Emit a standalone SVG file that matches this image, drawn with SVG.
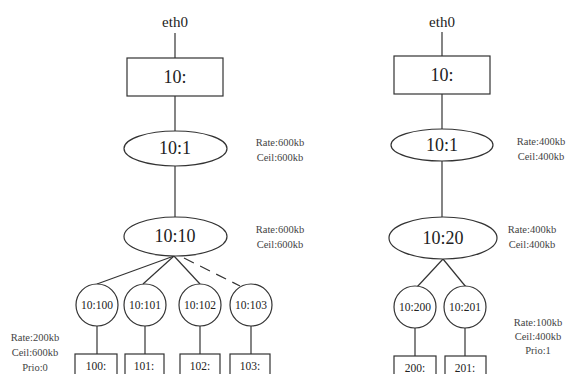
<svg xmlns="http://www.w3.org/2000/svg" width="568" height="374" viewBox="0 0 568 374" font-family="Liberation Serif, DejaVu Serif, serif">
<style>
.s{fill:#fff;stroke:#333;stroke-width:1.2}
.l{stroke:#333;stroke-width:1.2;fill:none}
.d{stroke-dasharray:11,7}
text{fill:#222;text-anchor:middle}
.big{font-size:18px}
.mid{font-size:15px}
.sm{font-size:11.5px}
.lb{font-size:10.5px;fill:#444}
</style>
<rect width="568" height="374" fill="#fff"/>
<g id="connectors">
<line class="l" x1="175" y1="33" x2="175" y2="58"/>
<line class="l" x1="175" y1="96" x2="175" y2="131"/>
<line class="l" x1="175" y1="166" x2="175" y2="217"/>
<line class="l" x1="174" y1="256" x2="97" y2="284"/>
<line class="l" x1="174" y1="256" x2="143" y2="284"/>
<line class="l" x1="174" y1="256" x2="200" y2="284"/>
<line class="l d" x1="184" y1="258" x2="240" y2="286"/>
<line class="l" x1="97" y1="326" x2="97" y2="354"/>
<line class="l" x1="145" y1="326" x2="145" y2="354"/>
<line class="l" x1="200" y1="326" x2="200" y2="354"/>
<line class="l" x1="251" y1="326" x2="251" y2="354"/>
<line class="l" x1="442" y1="32" x2="442" y2="56"/>
<line class="l" x1="442" y1="94" x2="442" y2="129"/>
<line class="l" x1="442" y1="161" x2="442" y2="217"/>
<line class="l" x1="443" y1="259" x2="417" y2="287"/>
<line class="l" x1="443" y1="259" x2="466" y2="287"/>
<line class="l" x1="415" y1="327" x2="415" y2="356"/>
<line class="l" x1="465" y1="327" x2="465" y2="356"/>
</g>
<text class="mid" x="175" y="27">eth0</text>
<text class="mid" x="442" y="27">eth0</text>
<g id="n10a"><rect class="s" x="127" y="58" width="96" height="38"/><text class="big" x="175" y="83">10:</text></g>
<g id="n10_1a"><ellipse class="s" cx="175.5" cy="148.5" rx="51.5" ry="17.5"/><text class="big" x="175" y="154">10:1</text></g>
<g id="n10_10"><ellipse class="s" cx="175.5" cy="236.5" rx="51.5" ry="19.5"/><text class="big" x="175" y="242">10:10</text></g>
<g id="n10_100"><circle class="s" cx="97" cy="305" r="21"/><text class="sm" x="97" y="309">10:100</text></g>
<g id="n10_101"><circle class="s" cx="145" cy="305" r="21"/><text class="sm" x="145" y="309">10:101</text></g>
<g id="n10_102"><circle class="s" cx="200" cy="305" r="21"/><text class="sm" x="200" y="309">10:102</text></g>
<g id="n10_103"><circle class="s" cx="251" cy="305" r="21"/><text class="sm" x="251" y="309">10:103</text></g>
<g id="n100"><rect class="s" x="75" y="354" width="42" height="30"/><text class="sm" x="96" y="370">100:</text></g>
<g id="n101"><rect class="s" x="125" y="354" width="39" height="30"/><text class="sm" x="144" y="370">101:</text></g>
<g id="n102"><rect class="s" x="180" y="354" width="40" height="30"/><text class="sm" x="200" y="370">102:</text></g>
<g id="n103"><rect class="s" x="230" y="354" width="40" height="30"/><text class="sm" x="250" y="370">103:</text></g>
<g id="n10b"><rect class="s" x="394" y="56" width="96" height="38"/><text class="big" x="442" y="81">10:</text></g>
<g id="n10_1b"><ellipse class="s" cx="442" cy="145" rx="51" ry="16"/><text class="big" x="442" y="151">10:1</text></g>
<g id="n10_20"><ellipse class="s" cx="443" cy="238" rx="54" ry="21"/><text class="big" x="443" y="244">10:20</text></g>
<g id="n10_200"><circle class="s" cx="415" cy="307" r="21"/><text class="sm" x="415" y="311">10:200</text></g>
<g id="n10_201"><circle class="s" cx="465" cy="307" r="21"/><text class="sm" x="465" y="311">10:201</text></g>
<g id="n200"><rect class="s" x="394" y="356" width="42" height="30"/><text class="sm" x="415" y="372">200:</text></g>
<g id="n201"><rect class="s" x="445" y="356" width="41" height="30"/><text class="sm" x="465" y="372">201:</text></g>
<text class="lb" x="280" y="146">Rate:600kb</text>
<text class="lb" x="280" y="161">Ceil:600kb</text>
<text class="lb" x="280" y="233">Rate:600kb</text>
<text class="lb" x="280" y="248">Ceil:600kb</text>
<text class="lb" x="35" y="341">Rate:200kb</text>
<text class="lb" x="35" y="356">Ceil:600kb</text>
<text class="lb" x="35" y="371">Prio:0</text>
<text class="lb" x="541" y="145">Rate:400kb</text>
<text class="lb" x="541" y="160">Ceil:400kb</text>
<text class="lb" x="532" y="233">Rate:400kb</text>
<text class="lb" x="532" y="248">Ceil:400kb</text>
<text class="lb" x="538" y="326">Rate:100kb</text>
<text class="lb" x="538" y="340">Ceil:400kb</text>
<text class="lb" x="538" y="354">Prio:1</text>
</svg>
